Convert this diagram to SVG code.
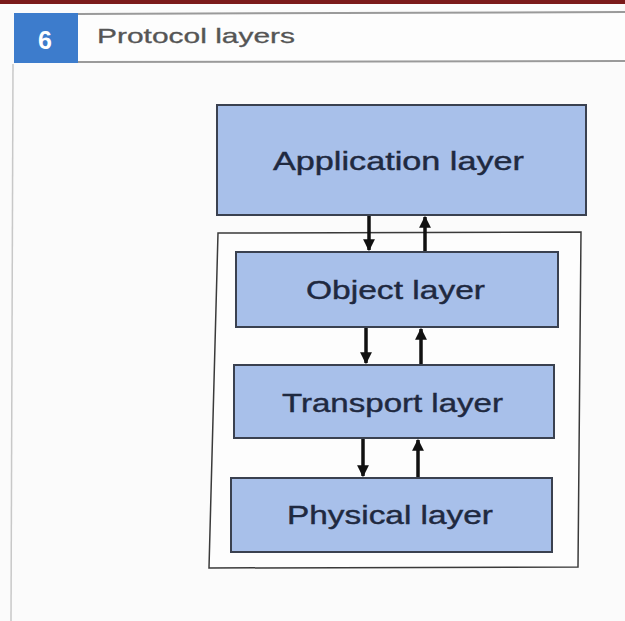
<svg xmlns="http://www.w3.org/2000/svg" width="625" height="621" viewBox="0 0 625 621">
<defs>
<style>
.box{fill:#a8c0ea;stroke:#3a4150;stroke-width:2}
.lbl{font-family:"Liberation Sans",Arial,sans-serif;font-size:25px;fill:#1f2940;stroke:#1f2940;stroke-width:0.4}
.conn{stroke:#111;stroke-width:3.5;fill:none}
</style>
<marker id="ah" viewBox="0 0 10 10" refX="9" refY="5" markerWidth="3.4" markerHeight="3.4" orient="auto" markerUnits="strokeWidth">
<path d="M0,0 L10,5 L0,10 z" fill="#111"/>
</marker>
</defs>
<rect x="0" y="0" width="625" height="621" fill="#fbfbfb"/>
<rect x="0" y="0" width="625" height="4" fill="#7a1a1a"/>
<g id="header">
<rect x="14" y="13" width="611" height="50" fill="#fdfdfd"/>
<line x1="78" y1="14" x2="625" y2="12" stroke="#9a9a9a" stroke-width="2"/>
<line x1="78" y1="62" x2="625" y2="61" stroke="#9a9a9a" stroke-width="2"/>
<rect x="14" y="13" width="64" height="50" fill="#3d7ccc"/>
<text x="45" y="49" text-anchor="middle" font-family="'Liberation Sans',Arial,sans-serif" font-weight="bold" font-size="25" fill="#ffffff">6</text>
<text x="97" y="43" font-family="'Liberation Sans',Arial,sans-serif" font-size="21" fill="#555" stroke="#555" stroke-width="0.3" textLength="198" lengthAdjust="spacingAndGlyphs">Protocol layers</text>
</g>
<line x1="13" y1="64" x2="11" y2="621" stroke="#c8c8c8" stroke-width="1.5"/>
<g id="container">
<polygon points="218,233 581,232 578,567 209,568" fill="#fdfdfd" stroke="#3a3a3a" stroke-width="1.5"/>
</g>
<g id="application">
<rect class="box" x="217" y="105" width="369" height="110"/>
<text class="lbl" x="273" y="170" textLength="251" lengthAdjust="spacingAndGlyphs">Application layer</text>
</g>
<g id="object">
<rect class="box" x="236" y="252" width="322" height="75"/>
<text class="lbl" x="306" y="299" textLength="179" lengthAdjust="spacingAndGlyphs">Object layer</text>
</g>
<g id="transport">
<rect class="box" x="234" y="365" width="320" height="73"/>
<text class="lbl" x="282" y="412" textLength="221" lengthAdjust="spacingAndGlyphs">Transport layer</text>
</g>
<g id="physical">
<rect class="box" x="231" y="478" width="321" height="74"/>
<text class="lbl" x="287" y="524" textLength="206" lengthAdjust="spacingAndGlyphs">Physical layer</text>
</g>
<g id="connectors">
<line class="conn" x1="369" y1="216" x2="369" y2="250" marker-end="url(#ah)"/>
<line class="conn" x1="425" y1="251" x2="425" y2="217" marker-end="url(#ah)"/>
<line class="conn" x1="366" y1="328" x2="366" y2="363" marker-end="url(#ah)"/>
<line class="conn" x1="421" y1="364" x2="421" y2="329" marker-end="url(#ah)"/>
<line class="conn" x1="363" y1="439" x2="363" y2="476" marker-end="url(#ah)"/>
<line class="conn" x1="418" y1="477" x2="418" y2="440" marker-end="url(#ah)"/>
</g>
</svg>
